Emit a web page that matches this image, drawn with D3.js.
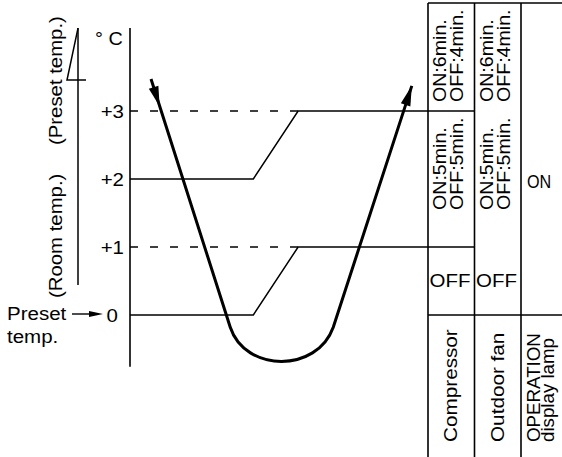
<!DOCTYPE html>
<html><head><meta charset="utf-8">
<script src="https://cdn.jsdelivr.net/npm/d3@7"></script>
<style>
html,body{margin:0;padding:0;background:#fff;}
svg{display:block;}
text{font-family:"Liberation Sans",Arial,Helvetica,sans-serif;fill:#000;}
</style></head><body>
<svg id="chart" width="562" height="457"></svg>
<script>
// ---------------- data ----------------
const levels = [0, 1, 2, 3];
const tickLabels = ["0", "+1", "+2", "+3"];
const unitLabel = "° C";
const axisSpan = [-0.76, 4.22];            // temperature extent of the vertical axis
// compressor switching characteristic: [time, temp]
const upperStep = [[0, 2], [35.8, 2], [48.8, 3], [100, 3]];
const lowerStep = [[0, 0], [35.8, 0], [48.8, 1], [100, 1]];
const upperDashed = [[0, 3], [48.8, 3]];
const lowerDashed = [[0, 1], [48.8, 1]];
// room temperature trace: [time, temp]
const curveStart = [6.1, 3.47];
const curveDownEnd = [29.1, -0.18];
const curveCtrl1 = [33.5, -0.85];
const curveCtrl2 = [54.3, -0.85];
const curveUpStart = [59.0, -0.18];
const curveEnd = [81.8, 3.37];
const downArrowTip = [8.6, 3.07];
// table
const columnNames = ["Compressor", "Outdoor fan", ["OPERATION", "display lamp"]];
const tableTemps = [4.588, -2.088];        // top / bottom of the table in temp units
const cycleHigh = ["ON:6min.", "OFF:4min."];
const cycleMid = ["ON:5min.", "OFF:5min."];
const offText = "OFF";
const lampText = "ON";
const leftLabels = ["(Preset temp.)", "(Room temp.)"];
const presetLabel = ["Preset", "temp."];

// ---------------- scales ----------------
const y = d3.scaleLinear().domain([0, 3]).range([315, 111]);
const x = d3.scaleLinear().domain([0, 100]).range([130, 474.5]);
const tx = d3.scaleLinear().domain([0, 1]).range([428, 474.5]);   // table column edges

const svg = d3.select("#chart");
svg.append("rect").attr("width", 562).attr("height", 457).attr("fill", "#fff");

function txt(s, px, py, opts = {}) {
  const rot = opts.rotate ? " rotate(-90)" : "";
  return svg.append("text")
    .attr("transform", `translate(${px},${py})${rot} scale(${opts.sx || 1.15},1)`)
    .attr("font-size", opts.fs || 17.5)
    .attr("text-anchor", opts.anchor || "start")
    .text(s);
}
const line = d3.line().x(d => x(d[0])).y(d => y(d[1]));

// ---------------- axis ----------------
svg.append("line").attr("x1", x(0)).attr("x2", x(0))
  .attr("y1", y(axisSpan[1])).attr("y2", y(axisSpan[0]))
  .attr("stroke", "#000").attr("stroke-width", 1.6);
levels.forEach((lv, i) => {
  txt(tickLabels[i], x(0) - (lv === 0 ? 12 : 6), y(lv) + 6.5, {anchor: "end", fs: 17.5, sx: 1.17});
});
txt(unitLabel, 95, 45, {fs: 18, sx: 1.1});

// ---------------- step lines ----------------
[upperStep, lowerStep].forEach(s => svg.append("path").attr("d", line(s))
  .attr("fill", "none").attr("stroke", "#000").attr("stroke-width", 1.5));
[upperDashed, lowerDashed].forEach(s => svg.append("path").attr("d", line(s))
  .attr("fill", "none").attr("stroke", "#000").attr("stroke-width", 1.5)
  .attr("stroke-dasharray", "8,12"));

// ---------------- room temperature curve ----------------
const P = d => [x(d[0]), y(d[1])];
const cp = d3.path();
cp.moveTo(...P(curveStart));
cp.lineTo(...P(curveDownEnd));
cp.bezierCurveTo(...P(curveCtrl1), ...P(curveCtrl2), ...P(curveUpStart));
cp.lineTo(...P(curveEnd));
svg.append("path").attr("d", cp.toString()).attr("fill", "none")
  .attr("stroke", "#000").attr("stroke-width", 3).attr("stroke-linejoin", "round");

function arrowHead(tip, from, len, w) {
  const [tX, tY] = P(tip), [fX, fY] = P(from);
  const dx = tX - fX, dy = tY - fY, L = Math.hypot(dx, dy);
  const ux = dx / L, uy = dy / L, px = -uy, py = ux;
  const bx = tX - ux * len, by = tY - uy * len;
  svg.append("path").attr("d",
    `M${tX},${tY}L${bx + px * w / 2},${by + py * w / 2}L${bx - px * w / 2},${by - py * w / 2}Z`)
    .attr("fill", "#000");
}
arrowHead(downArrowTip, curveStart, 20, 10);
arrowHead(curveEnd, curveUpStart, 20, 10);

// ---------------- left labels ----------------
txt(leftLabels[0], 62, y(2.5), {rotate: true, fs: 18.5, sx: 1.1});
txt(leftLabels[1], 62, y(0.25), {rotate: true, fs: 18.5, sx: 1.1});
svg.append("line").attr("x1", 78).attr("x2", 78)
  .attr("y1", y(axisSpan[1])).attr("y2", y(0.44))
  .attr("stroke", "#000").attr("stroke-width", 1.5);
svg.append("path").attr("d", `M78,${y(axisSpan[1])}L67,${y(3.456)}L86,${y(3.456)}`)
  .attr("fill", "none").attr("stroke", "#000").attr("stroke-width", 1.5);
txt(presetLabel[0], 7, 320, {fs: 19, sx: 1.08});
txt(presetLabel[1], 7, 343, {fs: 19, sx: 1.08});
svg.append("line").attr("x1", 72).attr("x2", 92).attr("y1", y(0) - 1).attr("y2", y(0) - 1)
  .attr("stroke", "#000").attr("stroke-width", 1.4);
svg.append("path").attr("d", `M103,${y(0) - 1}L89,${y(0) - 4}L89,${y(0) + 2}Z`).attr("fill", "#000");

// ---------------- table ----------------
const tTop = y(tableTemps[0]), tBot = y(tableTemps[1]);
[0, 1, 2].forEach(i => svg.append("line").attr("x1", tx(i)).attr("x2", tx(i))
  .attr("y1", tTop).attr("y2", tBot).attr("stroke", "#000").attr("stroke-width", 1.6));
[tableTemps[0], 0].forEach(t => svg.append("line").attr("x1", tx(0)).attr("x2", 562)
  .attr("y1", y(t)).attr("y2", y(t)).attr("stroke", "#000").attr("stroke-width", 1.6));

[0, 1].forEach(c => {
  const l = tx(c);
  [[cycleHigh, tableTemps[0]], [cycleMid, 3]].forEach(([lines, hi]) => {
    lines.forEach((s, k) => txt(s, l + (k === 0 ? 18 : 35), y(hi) + 99,
      {rotate: true, fs: 18.5, sx: 1.06}));
  });
  txt(offText, l + 1.5, 287, {fs: 17.5, sx: 1.17});
  txt(columnNames[c], l + 29, y(tableTemps[1]) - 15, {rotate: true, fs: 18.5, sx: 1.12});
});
txt(lampText, tx(2) + 6, 188, {fs: 19, sx: 0.85});
columnNames[2].forEach((s, k) => txt(s, tx(2) + (k === 0 ? 19 : 32.5), y(tableTemps[1]) - 15,
  {rotate: true, fs: 17.5, sx: 1.07}));
</script>
</body></html>
